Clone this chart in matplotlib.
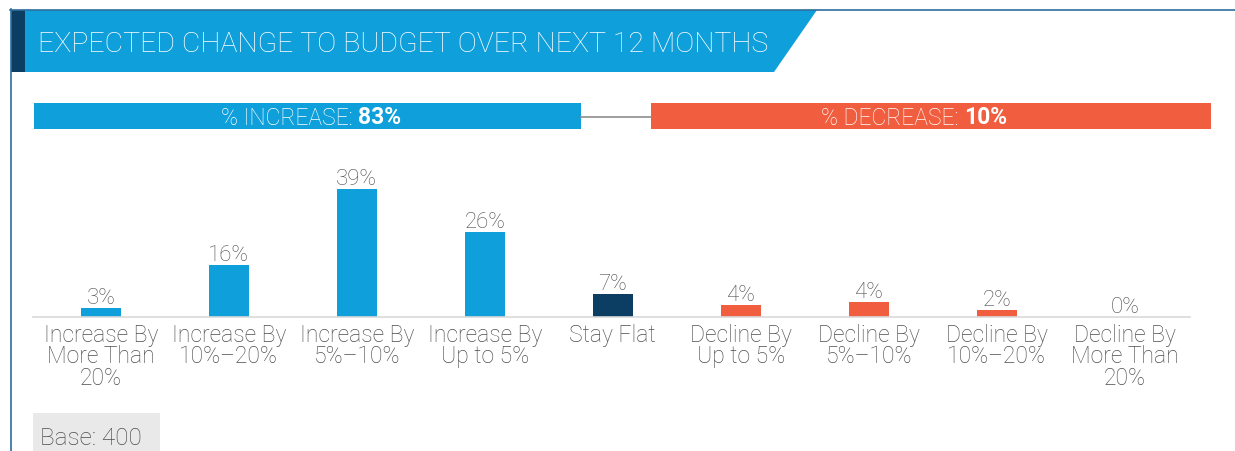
import matplotlib
matplotlib.use('Agg')
import matplotlib.pyplot as plt
from matplotlib.patches import Rectangle, Polygon
from matplotlib.lines import Line2D

plt.rcParams['font.family'] = ['Roboto', 'DejaVu Sans']

categories = ['Increase By\nMore Than\n20%', 'Increase By\n10%\u201320%', 'Increase By\n5%\u201310%',
              'Increase By\nUp to 5%', 'Stay Flat', 'Decline By\nUp to 5%', 'Decline By\n5%\u201310%',
              'Decline By\n10%\u201320%', 'Decline By\nMore Than\n20%']
values = [2.8, 16, 39, 26, 7, 3.7, 4.5, 2.1, 0]
value_labels = ['3%', '16%', '39%', '26%', '7%', '4%', '4%', '2%', '0%']
groups = ['inc', 'inc', 'inc', 'inc', 'flat', 'dec', 'dec', 'dec', 'dec']
increase_total = '83%'
decrease_total = '10%'
base_n = 400

BLUE = '#0f9fdb'
NAVY = '#0c3d62'
RED = '#f15d3f'
GRAY = '#4d4d4d'
colors = {'inc': BLUE, 'flat': NAVY, 'dec': RED}

W, H = 1235, 452
fig = plt.figure(figsize=(W / 100, H / 100), dpi=100)

# overlay in pixel coords (y down)
bg = fig.add_axes([0, 0, 1, 1])
bg.set_xlim(0, W)
bg.set_ylim(H, 0)
bg.axis('off')

bg.add_line(Line2D([10, W], [10.5, 10.5], color='#2e6e9e', lw=1.2))
bg.add_line(Line2D([10.5, 10.5], [10, H], color='#2e6e9e', lw=1.2))
bg.add_patch(Rectangle((11, 11), 14, 62, color=NAVY, lw=0))
bg.add_patch(Polygon([(25, 11), (817, 11), (774, 73), (25, 73)], closed=True, color=BLUE, lw=0))
bg.text(38, 44, 'EXPECTED CHANGE TO BUDGET OVER NEXT 12 MONTHS', color='white',
        fontsize=20.5, fontweight='light', va='center', ha='left')

# summary bars
bg.add_patch(Rectangle((34, 104), 547, 26, color=BLUE, lw=0))
bg.add_patch(Rectangle((651, 104), 560, 26, color=RED, lw=0))
bg.add_line(Line2D([581, 651], [118, 118], color='#8c8c8c', lw=1.2))

fig.canvas.draw()
renderer = fig.canvas.get_renderer()


def two_part(xc, yc, a, b, size=16.5):
    t1 = bg.text(0, yc, a, color='white', fontsize=size, fontweight='light', va='center', ha='left')
    t2 = bg.text(0, yc, b, color='white', fontsize=size, fontweight='bold', va='center', ha='left')
    w1 = t1.get_window_extent(renderer).width
    w2 = t2.get_window_extent(renderer).width
    x0 = xc - (w1 + w2) / 2
    t1.set_x(x0)
    t2.set_x(x0 + w1)


two_part(311, 118, '% INCREASE: ', increase_total)
two_part(914, 118, '% DECREASE: ', decrease_total)

# base box
bg.add_patch(Rectangle((33, 414), 127, 40, color='#e8e9e8', lw=0))
bg.text(40, 439, 'Base: %d' % base_n, color=GRAY, fontsize=17.5, fontweight='light', va='center', ha='left')

# bar chart
left, right, base_y, top_y = 33, 1190, 318, 160
ax = fig.add_axes([left / W, (H - base_y) / H, (right - left) / W, (base_y - top_y) / H])
ppu = 3.28
ax.set_ylim(0, (base_y - top_y) / ppu)
ax.set_xlim(-0.53, 8.51)
x = list(range(len(categories)))
ax.bar(x, values, width=0.31, color=[colors[g] for g in groups], lw=0)
for xi, v, lab in zip(x, values, value_labels):
    ax.annotate(lab, (xi, v), xytext=(0, 0), textcoords='offset points', ha='center', va='bottom',
                color=GRAY, fontsize=16, fontweight='light')
for s in ['top', 'right', 'left']:
    ax.spines[s].set_visible(False)
ax.spines['bottom'].set_color('#d9d9d9')
ax.spines['bottom'].set_linewidth(1.2)
ax.set_yticks([])
ax.set_xticks(x)
ax.set_xticklabels(categories, color=GRAY, fontsize=16.5, fontweight='light', linespacing=0.92)
ax.tick_params(axis='x', length=0, pad=4)
ax.patch.set_alpha(0)

fig.savefig('out.png', dpi=100)
